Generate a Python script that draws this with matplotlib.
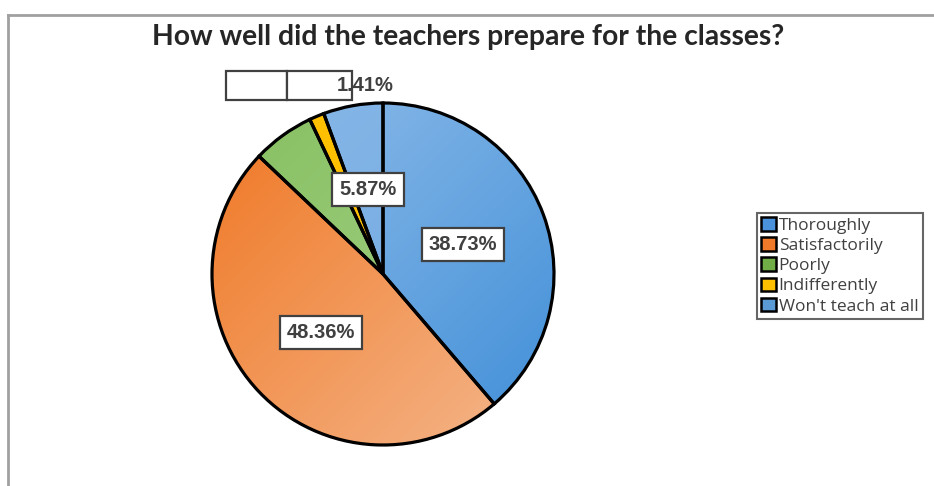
import numpy as np
import matplotlib
matplotlib.use("Agg")
import matplotlib.pyplot as plt
from matplotlib.colors import to_rgb
from matplotlib.patches import Patch, Rectangle


TITLE = "How well did the teachers prepare for the classes?"
CATEGORIES = ["Thoroughly", "Satisfactorily", "Poorly", "Indifferently", "Won't teach at all"]
SHARES = [38.73, 48.36, 5.87, 1.41, 5.63]
# (light/upper-left, lower-right) colour pair for each slice gradient
GRAD_START = ["#94bfea", "#ef7622", "#86bf60", "#ffc000", "#8ab8e8"]
GRAD_END = ["#3f8ed8", "#f5b88e", "#a8d38c", "#ffc000", "#6aa6e0"]
LEGEND_COLORS = ["#4a93dc", "#f07a2a", "#70ad47", "#ffc000", "#5b9bd5"]

W, H, DPI = 934, 486, 100
CX, CY, R = 383, 274, 171  # pie centre and radius in pixels

fig = plt.figure(figsize=(W / DPI, H / DPI), dpi=DPI)
fig.patch.set_facecolor("white")

# outer chart frame (top and left edges visible)
fig.add_artist(plt.Line2D([8 / W, 8 / W], [0, 1 - 15 / H], color="#a0a0a0", lw=2))
fig.add_artist(plt.Line2D([8 / W, 1], [1 - 15 / H, 1 - 15 / H], color="#a0a0a0", lw=2))

fig.text(468 / W, 1 - 37 / H, TITLE, ha="center", va="center",
         fontsize=20.3, fontweight="bold", color="#262626", family="Lato")

ax = fig.add_axes([(CX - R) / W, (H - CY - R) / H, 2 * R / W, 2 * R / H])
ax.axis("off")

wedges, _ = ax.pie(SHARES, startangle=90, counterclock=False, radius=1,
                   wedgeprops=dict(edgecolor="black", linewidth=2.3, facecolor="none"))

# diagonal gradient fill clipped to each slice
n = 300
gx, gy = np.meshgrid(np.linspace(-1, 1, n), np.linspace(1, -1, n))
t = np.clip((gx - gy) / 4 + 0.5, 0, 1)[..., None]
for w, c0, c1 in zip(wedges, GRAD_START, GRAD_END):
    img = (1 - t) * np.array(to_rgb(c0)) + t * np.array(to_rgb(c1))
    im = ax.imshow(img, extent=(-1, 1, -1, 1), zorder=1, interpolation="bilinear")
    im.set_clip_path(w)
    w.set_zorder(2)

ax.set_xlim(-1, 1)
ax.set_ylim(-1, 1)
ax.set_aspect("equal")

box = dict(boxstyle="square,pad=0.35", fc="white", ec="#404040", lw=1.6)
label_font = dict(fontsize=14.5, fontweight="bold", color="#404040", family="Liberation Sans")

# slice midpoints
bounds = np.concatenate([[0], np.cumsum(SHARES)]) / 100
mids = 90 - 360 * (bounds[:-1] + bounds[1:]) / 2

for i in (0, 1):
    a = np.radians(mids[i])
    ax.text(0.5 * np.cos(a), 0.5 * np.sin(a), f"{SHARES[i]:.2f}%",
            ha="center", va="center", bbox=box, zorder=5, **label_font)

# the Poorly label sits over the last slice
a = np.radians(mids[4])
ax.text(0.5 * np.cos(a), 0.5 * np.sin(a), f"{SHARES[2]:.2f}%",
        ha="center", va="center", bbox=box, zorder=5, **label_font)

# overlapping labels above the pie
for x0, x1 in [(-0.918, -0.561), (-0.561, -0.181)]:
    ax.add_patch(Rectangle((x0, 1.02), x1 - x0, 0.17, fc="white", ec="#404040",
                           lw=1.6, clip_on=False, zorder=5))
ax.text(-0.105, 1.1, f"{SHARES[3]:.2f}%", ha="center", va="center", zorder=6,
        clip_on=False, **label_font)

handles = [Patch(facecolor=c, edgecolor="black", lw=1.8) for c in LEGEND_COLORS]
leg = fig.legend(handles, CATEGORIES, loc="upper left",
                 bbox_to_anchor=(757 / W, 1 - 213 / H), frameon=True,
                 fancybox=False, edgecolor="#404040", handlelength=0.85,
                 handleheight=0.85, handletextpad=0.15, labelspacing=0.18,
                 borderpad=0.25, borderaxespad=0,
                 prop=dict(family="Open Sans", size=12.5))
leg.get_frame().set_linewidth(1.5)
for txt in leg.get_texts():
    txt.set_color("#404040")

fig.savefig("out.png", dpi=DPI, facecolor="white")
